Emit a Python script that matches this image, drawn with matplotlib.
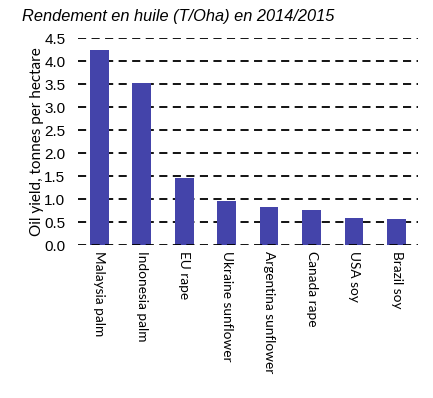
import matplotlib
matplotlib.use("Agg")
import matplotlib.pyplot as plt

categories = ["Malaysia palm", "Indonesia palm", "EU rape", "Ukraine sunflower",
              "Argentina sunflower", "Canada rape", "USA soy", "Brazil soy"]
values = [4.25, 3.53, 1.46, 0.96, 0.83, 0.77, 0.59, 0.57]
yticks = [0.0, 0.5, 1.0, 1.5, 2.0, 2.5, 3.0, 3.5, 4.0, 4.5]

fig = plt.figure(figsize=(4.33, 3.98), dpi=100)
ax = fig.add_axes([0.18, 0.3844, 0.785, 0.5201])

x = range(len(categories))
ax.bar(x, values, width=0.44, color="#4444AA", zorder=2)
ax.set_xlim(-0.5, len(categories) - 0.5)
ax.set_ylim(0, 4.5)
ax.set_yticks(yticks)
ax.set_yticklabels([f"{v:.1f}" for v in yticks], fontsize=11, family="Liberation Sans")
for v in yticks:
    ax.axhline(v, color="black", linestyle=(0, (4.5, 3)), linewidth=1.3, zorder=1 if v > 0 else 3)
for s in ax.spines.values():
    s.set_visible(False)
ax.tick_params(axis="y", length=0, pad=9)
ax.tick_params(axis="x", length=0, pad=4)
ax.set_xticks(list(x))
ax.set_xticklabels(categories, rotation=270, fontsize=9.8, family="Lato", va="top", ha="center")
ax.set_ylabel("Oil yield, tonnes per hectare", fontsize=11, family="Lato")
ax.yaxis.set_label_coords(-0.1, 0.5)

fig.text(0.05, 0.958, "Rendement en huile (T/Oha) en 2014/2015", fontsize=11.8,
         style="italic", family="Liberation Sans", va="center", ha="left")

fig.savefig("out.png", dpi=100)
